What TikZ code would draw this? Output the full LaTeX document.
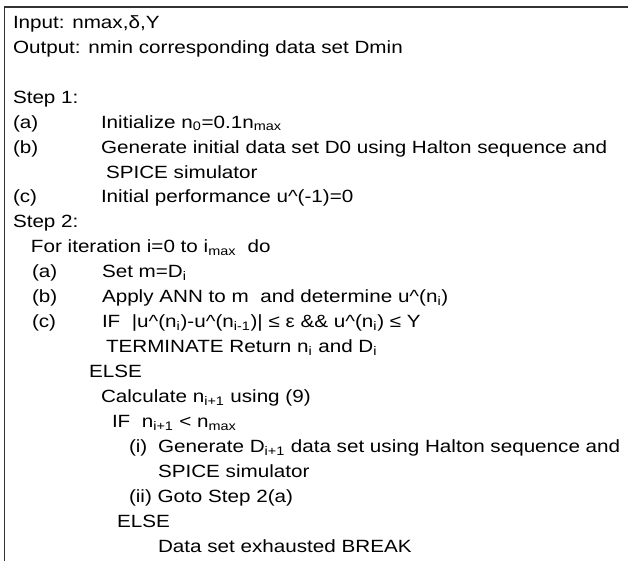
\documentclass[tikz,border=0pt]{standalone}
\usepackage{fontspec}
\setmainfont{Liberation Sans}[FakeStretch=1.166]
\newcommand{\sbs}[1]{\textsubscript{#1}}
\newcommand{\crt}{\textasciicircum}
\begin{document}
\begin{tikzpicture}[x=0.75pt,y=-0.75pt,
  txt/.style={anchor=base west, inner sep=0pt, outer sep=0pt, font=\fontsize{13.28}{16}\selectfont},
  frame/.style={line width=1.1pt, black!80}]
\useasboundingbox (0,0) rectangle (628,561);
\coordinate (fbl) at (4.5,561);
\coordinate (ftl) at (4.5,7);
\coordinate (ftr) at (628,7);
\draw[frame] (fbl) -- (ftl) -- (ftr);
% header
\node[txt] (l0)  at (13,28.3)  {Input: nmax,δ,Y};
\node[txt] (l1)  at (13,53.25) {Output: nmin corresponding data set Dmin};
% step 1
\node[txt] (l3)  at (13,103.15) {Step 1:};
\node[txt] (l4a) at (13,128.1)  {(a)};
\node[txt] (l4b) at (101,128.1) {Initialize n\sbs{0}=0.1n\sbs{max}};
\node[txt] (l5a) at (13,153.05) {(b)};
\node[txt] (l5b) at (101,153.05) {Generate initial data set D0 using Halton sequence and};
\node[txt] (l6)  at (106,178.0) {SPICE simulator};
\node[txt] (l7a) at (13,202.95) {(c)};
\node[txt] (l7b) at (101,202.95) {Initial performance u\crt(-1)=0};
% step 2
\node[txt] (l8)  at (13,227.9)  {Step 2:};
\node[txt] (l9)  at (31,252.85) {For iteration i=0 to i\sbs{max}\ \ do};
\node[txt] (l10a) at (32,277.8) {(a)};
\node[txt] (l10b) at (102,277.8) {Set m=D\sbs{i}};
\node[txt] (l11a) at (32,302.75) {(b)};
\node[txt] (l11b) at (102,302.75) {Apply ANN to m\ \ and determine u\crt(n\sbs{i})};
\node[txt] (l12a) at (32,327.7) {(c)};
\node[txt] (l12b) at (102,327.7) {IF\ \ |u\crt(n\sbs{i})-u\crt(n\sbs{i-1})| ≤ ε \&\& u\crt(n\sbs{i}) ≤ Y};
\node[txt] (l13) at (106,352.65) {TERMINATE Return n\sbs{i} and D\sbs{i}};
\node[txt] (l14) at (89,377.6)  {ELSE};
\node[txt] (l15) at (101,402.55) {Calculate n\sbs{i+1} using (9)};
\node[txt] (l16) at (112,427.5) {IF\ \ n\sbs{i+1} < n\sbs{max}};
\node[txt] (l17a) at (129,452.45) {(i)};
\node[txt] (l17b) at (158,452.45) {Generate D\sbs{i+1} data set using Halton sequence and};
\node[txt] (l18) at (158,477.4) {SPICE simulator};
\node[txt] (l19) at (129,502.35) {(ii) Goto Step 2(a)};
\node[txt] (l20) at (117,527.3) {ELSE};
\node[txt] (l21) at (158,552.25) {Data set exhausted BREAK};
\end{tikzpicture}
\end{document}
